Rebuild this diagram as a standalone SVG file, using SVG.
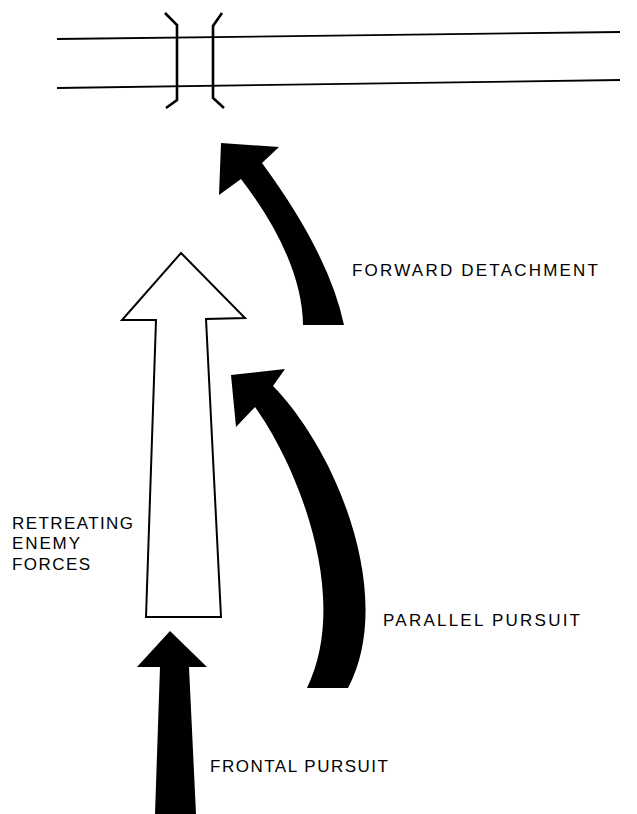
<svg xmlns="http://www.w3.org/2000/svg" width="637" height="814" viewBox="0 0 637 814">
<style>
.bg{fill:#ffffff}
.road{stroke:#000;stroke-width:1.8;fill:none}
.bridge{stroke:#000;stroke-width:2.6;fill:none;stroke-linejoin:miter}
.solid{fill:#000;stroke:none}
.hollow{fill:#fff;stroke:#000;stroke-width:2;stroke-linejoin:miter}
.lbl{font-family:"Liberation Sans",Arial,sans-serif;font-size:17px;fill:#000}
</style>
<rect class="bg" x="0" y="0" width="637" height="814"/>
<g id="road">
<line class="road" x1="57" y1="39" x2="620" y2="32"/>
<line class="road" x1="57" y1="88" x2="620" y2="80"/>
</g>
<g id="bridge">
<polyline class="bridge" points="165,13 177,25 177,100 166,108"/>
<polyline class="bridge" points="222,13 213,26 213,98 224,108"/>
</g>
<g id="connectors">
<path id="forward-detachment-arrow" class="solid" d="M221,143 L279,147 L262,163 Q329,254 344,325 L303,325 Q302,259 241,179 L219,195 Z"/>
<path id="parallel-pursuit-arrow" class="solid" d="M231,375 L285,369 L273,386 C340,455 395,600 348,688 L307,688 C350,600 300,470 255,407 L236,427 Z"/>
<path id="frontal-pursuit-arrow" class="solid" d="M170,631 L207,667 L189,667 L196,814 L155,814 L160,667 L137,667 Z"/>
</g>
<g id="retreating-enemy-forces">
<path class="hollow" d="M181,253 L245,318 L206,319 L221,617 L146,617 L156,320 L122,320 Z"/>
<text class="lbl" x="12" y="529" textLength="121" lengthAdjust="spacing">RETREATING</text>
<text class="lbl" x="12" y="549" textLength="68" lengthAdjust="spacing">ENEMY</text>
<text class="lbl" x="12" y="570" textLength="78" lengthAdjust="spacing">FORCES</text>
</g>
<g id="forward-detachment">
<text class="lbl" x="352" y="276" textLength="246" lengthAdjust="spacing">FORWARD DETACHMENT</text>
</g>
<g id="parallel-pursuit">
<text class="lbl" x="383" y="626" textLength="197" lengthAdjust="spacing">PARALLEL PURSUIT</text>
</g>
<g id="frontal-pursuit">
<text class="lbl" x="210" y="772" textLength="178" lengthAdjust="spacing">FRONTAL PURSUIT</text>
</g>
</svg>
